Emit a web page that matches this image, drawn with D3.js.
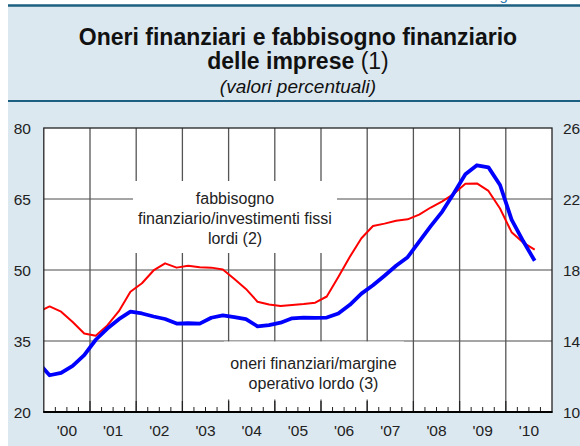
<!DOCTYPE html>
<html lang="it">
<head>
    <meta charset="UTF-8">
    <title>Oneri finanziari e fabbisogno finanziario delle imprese</title>
    <script src="https://cdnjs.cloudflare.com/ajax/libs/d3/7.8.5/d3.min.js"></script>
    <style>
        body { margin: 0; padding: 0; background: #ffffff; }
        svg { display: block; font-family: "Liberation Sans", Arial, sans-serif; }
    </style>
</head>
<body>
    <div id="chart"></div>

    <script>
        // quarters (the first one sits just left of the plot and gets clipped)
        const quarters = [
            "1999-Q4",
            "2000-Q1", "2000-Q2", "2000-Q3", "2000-Q4",
            "2001-Q1", "2001-Q2", "2001-Q3", "2001-Q4",
            "2002-Q1", "2002-Q2", "2002-Q3", "2002-Q4",
            "2003-Q1", "2003-Q2", "2003-Q3", "2003-Q4",
            "2004-Q1", "2004-Q2", "2004-Q3", "2004-Q4",
            "2005-Q1", "2005-Q2", "2005-Q3", "2005-Q4",
            "2006-Q1", "2006-Q2", "2006-Q3", "2006-Q4",
            "2007-Q1", "2007-Q2", "2007-Q3", "2007-Q4",
            "2008-Q1", "2008-Q2", "2008-Q3", "2008-Q4",
            "2009-Q1", "2009-Q2", "2009-Q3", "2009-Q4",
            "2010-Q1", "2010-Q2", "2010-Q3"
        ];

        // fabbisogno finanziario / investimenti fissi lordi (left axis)
        const fabbisogno = [
            41.1,
            42.3, 41.2, 39.0, 36.6,
            36.1, 38.3, 41.3, 45.4,
            47.2, 49.9, 51.4, 50.5,
            50.9, 50.6, 50.5, 50.1,
            48.1, 46.0, 43.3, 42.7,
            42.4, 42.6, 42.8, 43.1,
            44.4, 48.5, 52.8, 56.7,
            59.3, 59.8, 60.4, 60.7,
            61.7, 63.2, 64.5, 66.1,
            68.2, 68.3, 66.7, 63.0,
            58.0, 55.8, 54.3
        ];

        // oneri finanziari / margine operativo lordo (right axis)
        const oneri = [
            12.8,
            12.07, 12.2, 12.6, 13.2,
            14.07, 14.7, 15.23, 15.65,
            15.55, 15.38, 15.24, 14.98,
            15.0, 14.98, 15.31, 15.44,
            15.35, 15.23, 14.83, 14.89,
            15.03, 15.28, 15.32, 15.3,
            15.32, 15.55, 16.04, 16.67,
            17.14, 17.68, 18.24, 18.72,
            19.6, 20.47, 21.29, 22.33,
            23.39, 23.9, 23.78, 22.79,
            20.84, 19.63, 18.52
        ];

        const yearLabels = ["'00", "'01", "'02", "'03", "'04", "'05", "'06", "'07", "'08", "'09", "'10"];
        const leftTicks = [20, 35, 50, 65, 80];
        const rightTicks = [10, 14, 18, 22, 26];

        const width = 580;
        const height = 446;
        const plot = {left: 43.8, right: 552, top: 128, bottom: 412};

        // quarter string -> fractional year at mid-quarter
        const qPos = s => +s.slice(0, 4) + (+s.slice(6) - 0.5) / 4;

        const x = d3.scaleLinear().domain([2000, 2011]).range([plot.left, plot.right]);
        const yLeft = d3.scaleLinear().domain([20, 80]).range([plot.bottom, plot.top]);
        const yRight = d3.scaleLinear().domain([10, 26]).range([plot.bottom, plot.top]);

        const svg = d3.select("#chart")
            .append("svg")
            .attr("width", width)
            .attr("height", height);

        // header / panel background
        svg.append("rect")
            .attr("x", 8).attr("y", 5)
            .attr("width", width - 8).attr("height", height - 5)
            .attr("fill", "#dce8f0");

        svg.append("text")
            .attr("x", 487).attr("y", -0.5)
            .attr("font-size", 15)
            .attr("fill", "#2a7ab0")
            .text("Figura 7");

        svg.append("line")
            .attr("x1", 8).attr("x2", width)
            .attr("y1", 5.5).attr("y2", 5.5)
            .attr("stroke", "#1d5f80").attr("stroke-width", 2.5);

        svg.append("line")
            .attr("x1", 8).attr("x2", width)
            .attr("y1", 101).attr("y2", 101)
            .attr("stroke", "#1d5f80").attr("stroke-width", 2);

        const titleX = 298;
        svg.append("text")
            .attr("x", titleX).attr("y", 45)
            .attr("text-anchor", "middle")
            .attr("font-size", 23).attr("font-weight", "bold")
            .attr("fill", "#111")
            .text("Oneri finanziari e fabbisogno finanziario");

        const t2 = svg.append("text")
            .attr("x", titleX).attr("y", 69)
            .attr("text-anchor", "middle")
            .attr("font-size", 23)
            .attr("fill", "#111");
        t2.append("tspan").attr("font-weight", "bold").text("delle imprese ");
        t2.append("tspan").text("(1)");

        svg.append("text")
            .attr("x", titleX).attr("y", 93)
            .attr("text-anchor", "middle")
            .attr("font-size", 19).attr("font-style", "italic")
            .attr("fill", "#111")
            .text("(valori percentuali)");

        // plot area
        svg.append("rect")
            .attr("x", plot.left).attr("y", plot.top)
            .attr("width", plot.right - plot.left).attr("height", plot.bottom - plot.top)
            .attr("fill", "#fff");

        svg.append("defs").append("clipPath").attr("id", "clip")
            .append("rect")
            .attr("x", plot.left).attr("y", plot.top)
            .attr("width", plot.right - plot.left).attr("height", plot.bottom - plot.top);

        // gridlines
        const grid = svg.append("g");
        grid.selectAll("line.h")
            .data(leftTicks.slice(1, -1))
            .join("line")
            .attr("x1", plot.left).attr("x2", plot.right)
            .attr("y1", d => yLeft(d)).attr("y2", d => yLeft(d))
            .attr("stroke", "#4a4a4a").attr("stroke-width", 1);

        const years = d3.range(2001, 2011);
        grid.selectAll("line.v")
            .data(years)
            .join("line")
            .attr("x1", d => x(d)).attr("x2", d => x(d))
            .attr("y1", plot.top).attr("y2", plot.bottom)
            .attr("stroke", "#555").attr("stroke-width", 1.3);

        // quarter ticks on the bottom axis
        const qTicks = d3.range(2000, 2011, 0.25).filter(d => d % 1 !== 0);
        svg.append("g").selectAll("line")
            .data(qTicks)
            .join("line")
            .attr("x1", d => x(d)).attr("x2", d => x(d))
            .attr("y1", plot.bottom - 5).attr("y2", plot.bottom)
            .attr("stroke", "#222").attr("stroke-width", 1);

        // white boxes behind the series labels
        svg.append("rect")
            .attr("x", 133).attr("y", 181)
            .attr("width", 204).attr("height", 72)
            .attr("fill", "#fff");
        svg.append("rect")
            .attr("x", 224).attr("y", 341.5)
            .attr("width", 180).attr("height", 58)
            .attr("fill", "#fff");

        // year ticks (visible where the boxes hide the gridlines)
        svg.append("g").selectAll("line")
            .data(years)
            .join("line")
            .attr("x1", d => x(d)).attr("x2", d => x(d))
            .attr("y1", plot.bottom - 11).attr("y2", plot.bottom)
            .attr("stroke", "#222").attr("stroke-width", 1.2);

        const label1 = ["fabbisogno", "finanziario/investimenti fissi", "lordi (2)"];
        svg.append("g").selectAll("text")
            .data(label1)
            .join("text")
            .attr("x", 235)
            .attr("y", (d, i) => 203.5 + i * 20)
            .attr("text-anchor", "middle")
            .attr("font-size", 16)
            .attr("fill", "#222")
            .text(d => d);

        const label2 = ["oneri finanziari/margine", "operativo lordo (3)"];
        svg.append("g").selectAll("text")
            .data(label2)
            .join("text")
            .attr("x", 313.5)
            .attr("y", (d, i) => 368.5 + i * 20)
            .attr("text-anchor", "middle")
            .attr("font-size", 16)
            .attr("fill", "#222")
            .text(d => d);

        // series
        const lines = svg.append("g").attr("clip-path", "url(#clip)");

        const redLine = d3.line()
            .x((d, i) => x(qPos(quarters[i])))
            .y(d => yLeft(d));
        const blueLine = d3.line()
            .x((d, i) => x(qPos(quarters[i])))
            .y(d => yRight(d));

        lines.append("path")
            .datum(fabbisogno)
            .attr("d", redLine)
            .attr("fill", "none")
            .attr("stroke", "#ff0000")
            .attr("stroke-width", 2)
            .attr("stroke-linejoin", "round");

        lines.append("path")
            .datum(oneri)
            .attr("d", blueLine)
            .attr("fill", "none")
            .attr("stroke", "#0000ff")
            .attr("stroke-width", 3.8)
            .attr("stroke-linejoin", "round");

        // frame
        svg.append("rect")
            .attr("x", plot.left).attr("y", plot.top)
            .attr("width", plot.right - plot.left).attr("height", plot.bottom - plot.top)
            .attr("fill", "none")
            .attr("stroke", "#222").attr("stroke-width", 1.3);
        svg.append("line")
            .attr("x1", plot.left - 0.5).attr("x2", plot.right + 0.5)
            .attr("y1", plot.bottom).attr("y2", plot.bottom)
            .attr("stroke", "#000").attr("stroke-width", 2.2);

        // axis labels
        svg.append("g").selectAll("text")
            .data(leftTicks)
            .join("text")
            .attr("x", 31)
            .attr("y", d => yLeft(d))
            .attr("dy", "0.36em")
            .attr("text-anchor", "end")
            .attr("font-size", 15.5)
            .attr("fill", "#222")
            .text(d => d);

        svg.append("g").selectAll("text")
            .data(rightTicks)
            .join("text")
            .attr("x", 563)
            .attr("y", d => yRight(d))
            .attr("dy", "0.36em")
            .attr("font-size", 15.5)
            .attr("fill", "#222")
            .text(d => d);

        svg.append("g").selectAll("text")
            .data(yearLabels)
            .join("text")
            .attr("x", (d, i) => x(2000 + i + 0.5))
            .attr("y", 436)
            .attr("text-anchor", "middle")
            .attr("font-size", 15.5)
            .attr("fill", "#222")
            .text(d => d);
    </script>
</body>
</html>
